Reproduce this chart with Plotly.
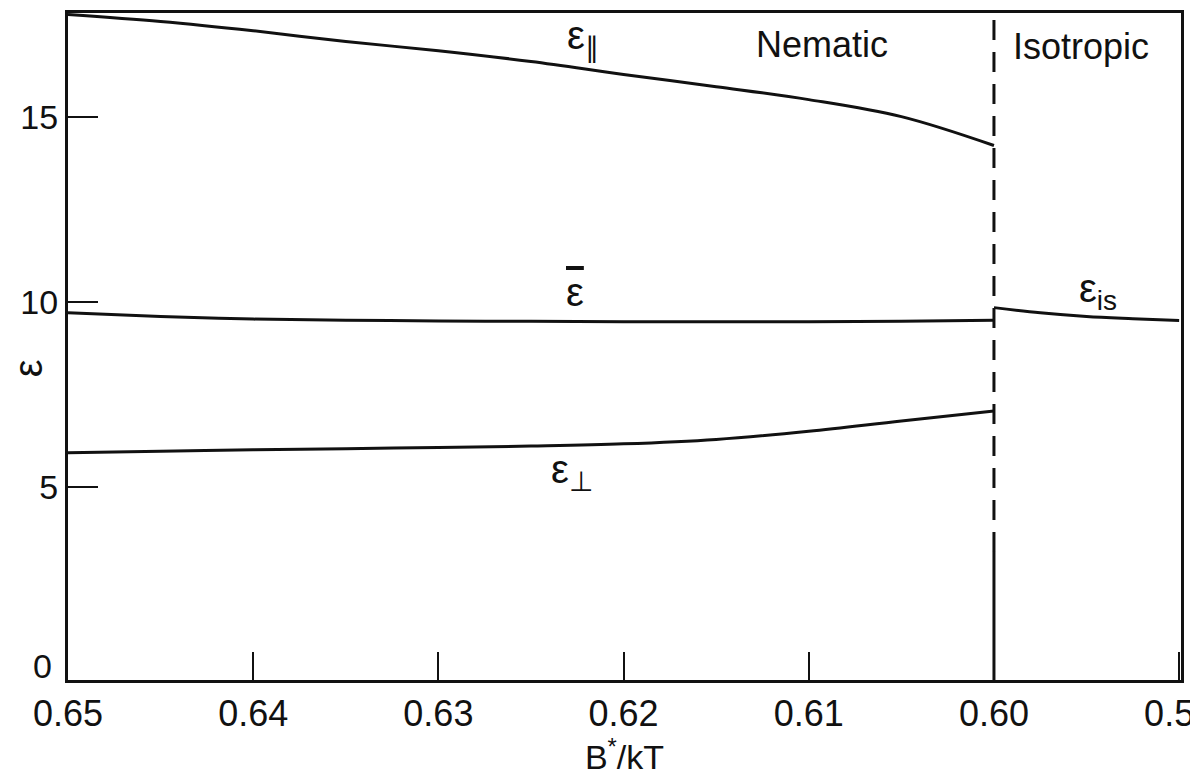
import plotly.graph_objects as go

# ---- data ----
b_nem = [0.650, 0.645, 0.640, 0.635, 0.630, 0.625, 0.620, 0.615, 0.610, 0.605, 0.600]
eps_par = [17.76, 17.57, 17.32, 17.03, 16.78, 16.49, 16.14, 15.81, 15.46, 15.00, 14.22]
eps_bar = [9.70, 9.60, 9.53, 9.50, 9.48, 9.47, 9.46, 9.46, 9.46, 9.47, 9.50]
eps_perp = [5.92, 5.96, 6.00, 6.03, 6.06, 6.10, 6.16, 6.28, 6.50, 6.78, 7.05]

b_iso = [0.600, 0.5975, 0.595, 0.5925, 0.590]
eps_is = [9.84, 9.70, 9.60, 9.54, 9.49]

b_transition = 0.600
dash_start = 3.24

x_ticks = [0.65, 0.64, 0.63, 0.62, 0.61, 0.60, 0.59]
x_ticklabels = ["0.65", "0.64", "0.63", "0.62", "0.61", "0.60", "0.59"]
y_ticks = [0, 5, 10, 15]
y_ticklabels = ["0", "5", "10", "15"]

x_range = [0.650, 0.5899]
y_range = [-0.22, 17.8]

INK = "#111111"
FONT = "Liberation Sans"

fig = go.Figure()
line_style = dict(color=INK, width=3, shape="spline", smoothing=1.0)
for xs, ys in [(b_nem, eps_par), (b_nem, eps_bar), (b_nem, eps_perp), (b_iso, eps_is)]:
    fig.add_trace(go.Scatter(x=xs, y=ys, mode="lines", line=line_style,
                             hoverinfo="skip", showlegend=False))

# phase transition line: solid bottom part, dashed upper part
fig.add_trace(go.Scatter(x=[b_transition, b_transition], y=[y_range[0], dash_start], mode="lines",
                         line=dict(color=INK, width=3), showlegend=False, hoverinfo="skip"))
fig.add_trace(go.Scatter(x=[b_transition, b_transition], y=[dash_start, y_range[1]], mode="lines",
                         line=dict(color=INK, width=3, dash="20px,12px"), showlegend=False, hoverinfo="skip"))

ann_font = dict(family=FONT, size=40, color=INK)
labels = [
    (0.6222, 17.12, "ε<sub>∥</sub>", ann_font),
    (0.6093, 16.95, "Nematic", dict(family=FONT, size=36, color=INK)),
    (0.5953, 16.90, "Isotropic", dict(family=FONT, size=36, color=INK)),
    (0.6226, 10.25, "<span style='text-decoration:overline'>ε</span>", ann_font),
    (0.6228, 5.40, "ε<sub>⊥</sub>", ann_font),
    (0.5944, 10.30, "ε<sub>is</sub>", ann_font),
]
for x, y, t, f in labels:
    fig.add_annotation(x=x, y=y, xref="x", yref="y", text=t, showarrow=False, font=f)

# the "0" label of the y axis (the reference draws no tick mark there)
fig.add_annotation(x=0, y=y_ticks[0], xref="paper", yref="y", text=y_ticklabels[0], showarrow=False,
                   xanchor="right", xshift=-14, yshift=6, font=dict(family=FONT, size=34, color=INK))
# y-axis title (placed a little below the middle, as in the reference)
fig.add_annotation(x=0, y=8.2, xref="paper", yref="y", text="ε", showarrow=False, textangle=-90,
                   xanchor="center", xshift=-40, font=dict(family=FONT, size=40, color=INK))

axis_common = dict(showline=True, linecolor=INK, linewidth=3, mirror=True, showgrid=False,
                   zeroline=False, ticks="inside", tickcolor=INK, tickwidth=2, automargin=False)

fig.update_xaxes(range=x_range, tickmode="array", tickvals=x_ticks, ticktext=x_ticklabels,
                 ticklen=28, tickfont=dict(family=FONT, size=36, color=INK), ticklabeloverflow="allow",
                 title=dict(text="B<sup>*</sup>/kT", font=dict(family=FONT, size=34, color=INK), standoff=0),
                 **axis_common)
fig.update_yaxes(range=y_range, tickmode="array", tickvals=y_ticks[1:], ticktext=y_ticklabels[1:],
                 ticklen=30, tickfont=dict(family=FONT, size=34, color=INK),
                 **axis_common)

fig.update_layout(width=1190, height=776, margin=dict(l=68, r=9, t=13, b=96),
                  plot_bgcolor="white", paper_bgcolor="white", font=dict(family=FONT, color=INK))

fig.write_html("out.html", config={"displayModeBar": False},
               post_script="document.body.style.margin='0';document.body.style.overflow='hidden';")
